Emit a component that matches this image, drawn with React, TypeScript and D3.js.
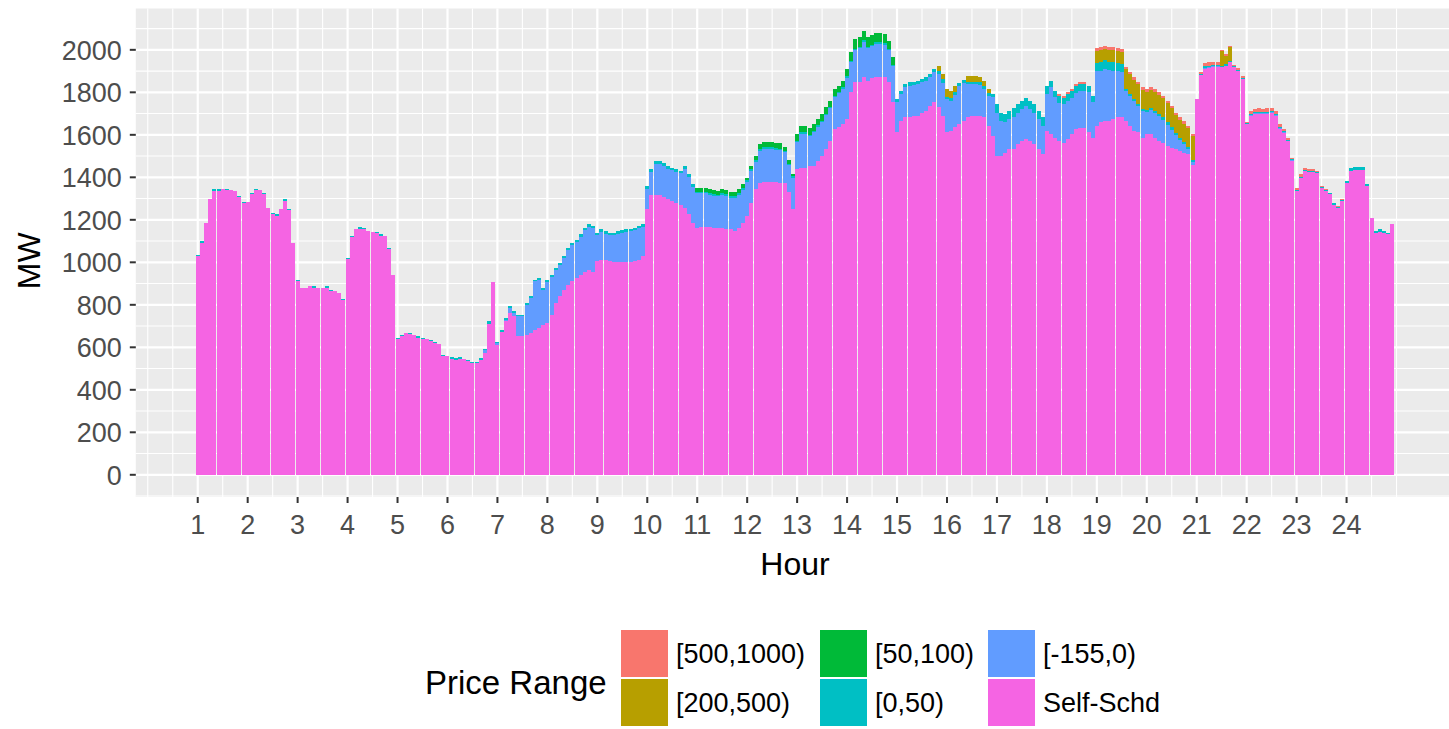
import React, { useEffect, useRef } from 'react';
import * as d3 from 'd3';

// 5-minute intervals, 12 per hour, hour 1 .. 24
const hourTicks = d3.range(1, 25);
const yTicks = d3.range(0, 2001, 200);

// legend order (ggplot puts first level on top of the stack)
const priceRanges = ['[500,1000)', '[200,500)', '[50,100)', '[0,50)', '[-155,0)', 'Self-Schd'];
const rangeColors = ['#F8766D', '#B79F00', '#00BA38', '#00BFC4', '#619CFF', '#F564E3'];

// MW per interval, one row per hour
const selfSchd = [
  1030, 1093, 1186, 1296, 1337, 1337, 1343, 1340, 1340, 1335, 1306, 1277,
  1283, 1322, 1340, 1340, 1322, 1257, 1227, 1220, 1250, 1290, 1246, 1090,
  912, 879, 879, 887, 881, 879, 879, 881, 865, 864, 856, 821,
  1015, 1117, 1158, 1159, 1156, 1147, 1142, 1136, 1125, 1126, 1062, 942,
  637, 653, 666, 663, 659, 646, 638, 639, 628, 619, 614, 559,
  557, 547, 542, 547, 544, 534, 527, 527, 542, 575, 710, 906,
  612, 670, 725, 760, 745, 651, 651, 659, 665, 682, 690, 706,
  714, 753, 808, 840, 871, 895, 911, 926, 942, 953, 966, 955,
  1005, 1010, 1013, 1005, 1000, 1000, 1000, 1000, 1000, 1005, 1013, 1029,
  1250, 1316, 1316, 1316, 1306, 1296, 1288, 1280, 1272, 1257, 1226, 1186,
  1162, 1167, 1167, 1167, 1162, 1162, 1162, 1158, 1155, 1147, 1162, 1186,
  1217, 1280, 1343, 1375, 1378, 1378, 1378, 1378, 1375, 1375, 1330, 1249,
  1438, 1446, 1446, 1453, 1453, 1478, 1501, 1532, 1571, 1627, 1635, 1650,
  1674, 1800, 1847, 1847, 1870, 1854, 1866, 1870, 1870, 1870, 1847, 1753,
  1611, 1666, 1682, 1682, 1690, 1690, 1705, 1713, 1734, 1753, 1729, 1690,
  1611, 1619, 1635, 1650, 1666, 1682, 1690, 1690, 1690, 1682, 1643, 1595,
  1501, 1501, 1516, 1532, 1532, 1556, 1571, 1579, 1571, 1556, 1532, 1508,
  1619, 1603, 1587, 1571, 1563, 1579, 1603, 1627, 1634, 1634, 1611, 1587,
  1642, 1658, 1666, 1666, 1674, 1682, 1682, 1666, 1642, 1619, 1611, 1587,
  1603, 1603, 1587, 1571, 1563, 1548, 1540, 1532, 1524, 1516, 1508, 1460,
  1770, 1880, 1910, 1913, 1918, 1918, 1918, 1926, 1941, 1918, 1902, 1863,
  1650, 1690, 1698, 1700, 1698, 1700, 1702, 1690, 1627, 1610, 1571, 1477,
  1336, 1398, 1430, 1425, 1425, 1418, 1350, 1335, 1320, 1272, 1256, 1290,
  1375, 1430, 1436, 1436, 1436, 1360, 1210, 1139, 1142, 1139, 1133, 1178,
];

const neg155to0 = [
  0, 0, 0, 0, 0, 0, 0, 0, 0, 0, 0, 0,
  0, 0, 0, 0, 0, 0, 0, 0, 0, 0, 0, 0,
  0, 0, 0, 0, 0, 0, 0, 0, 0, 0, 0, 0,
  0, 0, 0, 0, 0, 0, 0, 0, 0, 0, 0, 0,
  0, 0, 0, 0, 0, 0, 0, 0, 0, 0, 0, 0,
  0, 0, 0, 0, 0, 0, 0, 0, 0, 10, 0, 0,
  7, 4, 5, 25, 16, 94, 94, 141, 167, 228, 228, 165,
  194, 178, 155, 147, 148, 163, 171, 171, 179, 199, 202, 205,
  122, 133, 122, 122, 127, 135, 138, 143, 146, 146, 148, 137,
  97, 110, 149, 149, 148, 145, 145, 146, 146, 184, 176, 169,
  163, 158, 158, 152, 152, 149, 157, 156, 150, 158, 157, 155,
  163, 150, 129, 148, 156, 156, 156, 152, 152, 142, 127, 147,
  129, 160, 160, 141, 161, 160, 160, 161, 153, 152, 160, 168,
  195, 143, 153, 161, 169, 154, 153, 159, 159, 154, 150, 171,
  142, 126, 142, 150, 145, 149, 142, 142, 137, 142, 156, 156,
  157, 141, 154, 181, 179, 156, 148, 148, 145, 135, 140, 183,
  204, 164, 142, 141, 153, 149, 149, 156, 149, 149, 141, 134,
  171, 222, 190, 181, 181, 181, 172, 172, 173, 173, 190, 167,
  257, 244, 244, 239, 228, 217, 212, 140, 140, 139, 124, 124,
  105, 113, 116, 117, 109, 100, 85, 66, 51, 40, 27, 13,
  0, 0, 4, 4, 4, 4, 0, 0, 0, 0, 0, 0,
  0, 4, 4, 4, 4, 4, 4, 4, 4, 4, 0, 4,
  0, 0, 0, 0, 0, 0, 0, 0, 0, 0, 0, 0,
  0, 0, 0, 0, 0, 0, 0, 0, 0, 0, 0, 0,
];

const p0to50 = [
  6, 6, 0, 0, 6, 6, 0, 6, 0, 0, 6, 6,
  0, 6, 6, 0, 6, 0, 6, 6, 0, 6, 6, 0,
  6, 0, 0, 0, 6, 0, 0, 6, 6, 0, 0, 6,
  6, 6, 0, 6, 6, 0, 0, 6, 6, 0, 6, 0,
  6, 6, 0, 6, 0, 6, 6, 0, 6, 6, 0, 6,
  0, 6, 6, 6, 0, 6, 6, 6, 6, 5, 12, 0,
  8, 8, 8, 8, 8, 8, 8, 8, 8, 8, 8, 8,
  10, 10, 10, 10, 10, 10, 10, 10, 10, 10, 10, 10,
  12, 12, 12, 12, 12, 12, 12, 12, 12, 12, 12, 12,
  12, 12, 12, 12, 12, 12, 12, 12, 12, 12, 12, 12,
  8, 8, 8, 8, 8, 8, 8, 8, 8, 8, 8, 8,
  8, 8, 8, 8, 8, 8, 8, 8, 8, 8, 8, 8,
  6, 6, 6, 6, 6, 6, 6, 6, 6, 6, 6, 6,
  6, 6, 6, 6, 6, 6, 6, 6, 6, 6, 6, 6,
  15, 15, 15, 15, 15, 15, 15, 15, 15, 15, 15, 15,
  12, 12, 12, 12, 12, 12, 12, 12, 12, 12, 12, 12,
  40, 40, 40, 40, 40, 40, 40, 40, 40, 40, 40, 40,
  40, 30, 30, 30, 30, 30, 30, 30, 30, 30, 30, 30,
  40, 40, 40, 40, 40, 40, 40, 12, 12, 12, 12, 12,
  10, 10, 10, 10, 10, 10, 10, 10, 10, 10, 10, 10,
  0, 5, 8, 8, 8, 8, 5, 5, 5, 5, 5, 5,
  5, 5, 5, 5, 5, 5, 5, 5, 5, 5, 5, 5,
  5, 5, 5, 5, 5, 5, 5, 5, 5, 5, 5, 5,
  7, 16, 14, 14, 14, 7, 0, 8, 13, 8, 6, 0,
];

const p50to100 = [
  0, 0, 0, 0, 0, 0, 0, 0, 0, 0, 0, 0,
  0, 0, 0, 0, 0, 0, 0, 0, 0, 0, 0, 0,
  0, 0, 0, 0, 0, 0, 0, 0, 0, 0, 0, 0,
  0, 0, 0, 0, 0, 0, 0, 0, 0, 0, 0, 0,
  0, 0, 0, 0, 0, 0, 0, 0, 0, 0, 0, 0,
  0, 0, 0, 0, 0, 0, 0, 0, 0, 0, 0, 0,
  0, 0, 0, 0, 0, 0, 0, 0, 0, 0, 0, 0,
  0, 0, 0, 0, 0, 0, 0, 0, 0, 0, 0, 0,
  0, 0, 0, 0, 0, 0, 0, 0, 0, 0, 0, 0,
  0, 0, 0, 0, 0, 0, 0, 0, 0, 0, 0, 0,
  18, 18, 18, 18, 18, 18, 18, 18, 18, 18, 18, 18,
  10, 15, 20, 25, 25, 25, 25, 25, 25, 20, 15, 10,
  30, 30, 30, 30, 30, 30, 30, 30, 30, 30, 30, 30,
  35, 40, 45, 45, 45, 45, 45, 45, 45, 45, 40, 35,
  0, 0, 0, 0, 0, 0, 0, 0, 0, 0, 0, 0,
  0, 0, 0, 0, 0, 0, 0, 0, 0, 0, 0, 0,
  0, 0, 0, 0, 0, 0, 0, 0, 0, 0, 0, 0,
  0, 0, 0, 0, 0, 0, 0, 0, 0, 0, 0, 0,
  0, 0, 0, 0, 0, 0, 0, 0, 0, 0, 0, 0,
  0, 0, 0, 0, 0, 0, 0, 0, 0, 0, 0, 0,
  0, 0, 0, 0, 0, 0, 0, 0, 0, 0, 0, 0,
  0, 0, 0, 0, 0, 0, 0, 0, 0, 0, 0, 0,
  0, 0, 0, 0, 0, 0, 0, 0, 0, 0, 0, 0,
  0, 0, 0, 0, 0, 0, 0, 0, 0, 0, 0, 0,
];

const p200to500 = [
  0, 0, 0, 0, 0, 0, 0, 0, 0, 0, 0, 0,
  0, 0, 0, 0, 0, 0, 0, 0, 0, 0, 0, 0,
  0, 0, 0, 0, 0, 0, 0, 0, 0, 0, 0, 0,
  0, 0, 0, 0, 0, 0, 0, 0, 0, 0, 0, 0,
  0, 0, 0, 0, 0, 0, 0, 0, 0, 0, 0, 0,
  0, 0, 0, 0, 0, 0, 0, 0, 0, 0, 0, 0,
  0, 0, 0, 0, 0, 0, 0, 0, 0, 0, 0, 0,
  0, 0, 0, 0, 0, 0, 0, 0, 0, 0, 0, 0,
  0, 0, 0, 0, 0, 0, 0, 0, 0, 0, 0, 0,
  0, 0, 0, 0, 0, 0, 0, 0, 0, 0, 0, 0,
  0, 0, 0, 0, 0, 0, 0, 0, 0, 0, 0, 0,
  0, 0, 0, 0, 0, 0, 0, 0, 0, 0, 0, 0,
  0, 0, 0, 0, 0, 0, 0, 0, 0, 0, 0, 0,
  0, 0, 0, 0, 0, 0, 0, 0, 0, 0, 0, 0,
  0, 0, 0, 0, 0, 0, 0, 0, 0, 0, 25, 25,
  35, 35, 30, 0, 0, 25, 25, 25, 25, 25, 20, 0,
  0, 0, 0, 0, 0, 0, 0, 0, 0, 0, 0, 0,
  0, 0, 0, 0, 0, 0, 0, 0, 0, 0, 0, 0,
  55, 55, 55, 55, 55, 55, 55, 90, 90, 90, 90, 90,
  85, 85, 90, 90, 90, 90, 90, 85, 85, 85, 85, 110,
  0, 0, 0, 0, 0, 0, 70, 40, 65, 0, 0, 0,
  0, 0, 0, 0, 0, 0, 0, 0, 0, 0, 0, 0,
  0, 0, 0, 0, 0, 0, 0, 0, 0, 0, 0, 0,
  0, 0, 0, 0, 0, 0, 0, 0, 0, 0, 0, 0,
];

const p500to1000 = [
  0, 0, 0, 0, 0, 0, 0, 0, 0, 0, 0, 0,
  0, 0, 0, 0, 0, 0, 0, 0, 0, 0, 0, 0,
  0, 0, 0, 0, 0, 0, 0, 0, 0, 0, 0, 0,
  0, 0, 0, 0, 0, 0, 0, 0, 0, 0, 0, 0,
  0, 0, 0, 0, 0, 0, 0, 0, 0, 0, 0, 0,
  0, 0, 0, 0, 0, 0, 0, 0, 0, 0, 0, 0,
  0, 0, 0, 0, 0, 0, 0, 0, 0, 0, 0, 0,
  0, 0, 0, 0, 0, 0, 0, 0, 0, 0, 0, 0,
  0, 0, 0, 0, 0, 0, 0, 0, 0, 0, 0, 0,
  0, 0, 0, 0, 0, 0, 0, 0, 0, 0, 0, 0,
  0, 0, 0, 0, 0, 0, 0, 0, 0, 0, 0, 0,
  0, 0, 0, 0, 0, 0, 0, 0, 0, 0, 0, 0,
  0, 0, 0, 0, 0, 0, 0, 0, 0, 0, 0, 0,
  0, 0, 0, 0, 0, 0, 0, 0, 0, 0, 0, 0,
  0, 0, 0, 0, 0, 0, 0, 0, 0, 0, 0, 0,
  0, 0, 0, 0, 0, 0, 0, 0, 0, 0, 0, 0,
  0, 0, 0, 0, 0, 0, 0, 0, 0, 0, 0, 0,
  0, 0, 0, 10, 10, 10, 10, 10, 10, 10, 0, 0,
  15, 15, 15, 15, 15, 15, 15, 10, 10, 10, 10, 10,
  12, 12, 12, 12, 12, 12, 12, 12, 12, 12, 12, 12,
  0, 9, 15, 20, 15, 15, 7, 9, 9, 6, 6, 10,
  3, 14, 14, 16, 14, 16, 14, 11, 14, 8, 8, 7,
  10, 11, 11, 8, 8, 7, 4, 3, 3, 3, 3, 1,
  0, 0, 0, 0, 0, 0, 0, 0, 0, 0, 0, 0,
];

const W = 1449;
const H = 729;
const panel = { left: 135.8, right: 1454.3, top: 8.5, bottom: 497 };
const font = '"Liberation Sans", Arial, Helvetica, sans-serif';

const App = () => {
  const svgRef = useRef(null);

  useEffect(() => {
    const svg = d3.select(svgRef.current);
    svg.selectAll('*').remove();

    const seriesByRange = {
      'Self-Schd': selfSchd,
      '[-155,0)': neg155to0,
      '[0,50)': p0to50,
      '[50,100)': p50to100,
      '[200,500)': p200to500,
      '[500,1000)': p500to1000,
    };
    const stackKeys = priceRanges.slice().reverse(); // bottom first
    const rows = selfSchd.map((_, i) => {
      const row = { slot: 1 + i / 12 };
      stackKeys.forEach(k => { row[k] = seriesByRange[k][i]; });
      return row;
    });
    const stacked = d3.stack().keys(stackKeys)(rows);
    const maxTotal = d3.max(stacked[stacked.length - 1], d => d[1]);

    const barWidth = 0.08;
    const xLo = 1 - barWidth / 2;
    const xHi = rows[rows.length - 1].slot + barWidth / 2;
    const xPad = (xHi - xLo) * 0.05;
    const x = d3.scaleLinear().domain([xLo - xPad, xHi + xPad]).range([panel.left, panel.right]);
    const y = d3.scaleLinear().domain([-0.05 * maxTotal, 1.05 * maxTotal]).range([panel.bottom, panel.top]);

    // panel background
    svg.append('rect')
      .attr('x', panel.left).attr('y', panel.top)
      .attr('width', panel.right - panel.left).attr('height', panel.bottom - panel.top)
      .attr('fill', '#EBEBEB');

    const grid = svg.append('g');
    const [x0, x1] = x.domain();
    const xMinor = d3.range(0, 25.01, 0.5).filter(v => !hourTicks.includes(v) && v >= x0 && v <= x1);
    const [y0, y1] = y.domain();
    const yMinor = d3.range(-100, 2200, 200).filter(v => v >= y0 && v <= y1);

    grid.selectAll('.xminor').data(xMinor).enter().append('line')
      .attr('x1', d => x(d)).attr('x2', d => x(d))
      .attr('y1', panel.top).attr('y2', panel.bottom)
      .attr('stroke', '#fff').attr('stroke-width', 1.1);
    grid.selectAll('.yminor').data(yMinor).enter().append('line')
      .attr('x1', panel.left).attr('x2', panel.right)
      .attr('y1', d => y(d)).attr('y2', d => y(d))
      .attr('stroke', '#fff').attr('stroke-width', 1.1);
    grid.selectAll('.xmajor').data(hourTicks).enter().append('line')
      .attr('x1', d => x(d)).attr('x2', d => x(d))
      .attr('y1', panel.top).attr('y2', panel.bottom)
      .attr('stroke', '#fff').attr('stroke-width', 2.2);
    grid.selectAll('.ymajor').data(yTicks).enter().append('line')
      .attr('x1', panel.left).attr('x2', panel.right)
      .attr('y1', d => y(d)).attr('y2', d => y(d))
      .attr('stroke', '#fff').attr('stroke-width', 2.2);

    // stacked bars
    const color = d3.scaleOrdinal().domain(priceRanges).range(rangeColors);
    const bw = x(barWidth) - x(0);
    svg.append('g')
      .selectAll('g')
      .data(stacked)
      .enter()
      .append('g')
      .attr('fill', s => color(s.key))
      .attr('shape-rendering', 'crispEdges')
      .selectAll('rect')
      .data(s => s.filter(d => d[1] > d[0]))
      .enter()
      .append('rect')
      .attr('x', d => x(d.data.slot - barWidth / 2))
      .attr('width', bw)
      .attr('y', d => y(d[1]))
      .attr('height', d => y(d[0]) - y(d[1]));

    // axes
    const axes = svg.append('g').attr('font-family', font);
    axes.selectAll('.yt').data(yTicks).enter().append('line')
      .attr('x1', panel.left - 6).attr('x2', panel.left)
      .attr('y1', d => y(d)).attr('y2', d => y(d))
      .attr('stroke', '#333').attr('stroke-width', 2);
    axes.selectAll('.yl').data(yTicks).enter().append('text')
      .attr('x', panel.left - 14).attr('y', d => y(d))
      .attr('dy', '0.36em').attr('text-anchor', 'end')
      .attr('font-size', 27).attr('fill', '#4D4D4D')
      .text(d => d);
    axes.selectAll('.xt').data(hourTicks).enter().append('line')
      .attr('x1', d => x(d)).attr('x2', d => x(d))
      .attr('y1', panel.bottom).attr('y2', panel.bottom + 6)
      .attr('stroke', '#333').attr('stroke-width', 2);
    axes.selectAll('.xl').data(hourTicks).enter().append('text')
      .attr('x', d => x(d)).attr('y', panel.bottom + 37)
      .attr('text-anchor', 'middle')
      .attr('font-size', 27).attr('fill', '#4D4D4D')
      .text(d => d);

    axes.append('text')
      .attr('x', (panel.left + panel.right) / 2).attr('y', 575)
      .attr('text-anchor', 'middle').attr('font-size', 32).attr('fill', '#000')
      .text('Hour');
    axes.append('text')
      .attr('transform', `translate(40, ${(panel.top + panel.bottom) / 2 + 8}) rotate(-90)`)
      .attr('text-anchor', 'middle').attr('font-size', 32).attr('fill', '#000')
      .text('MW');

    // legend: 3 columns x 2 rows, filled column-wise
    const legend = svg.append('g').attr('font-family', font);
    legend.append('text')
      .attr('x', 425).attr('y', 694)
      .attr('font-size', 33).attr('fill', '#000')
      .text('Price Range');
    const colX = [621, 820, 988];
    const keySize = 47;
    const rowY = [630, 679];
    priceRanges.forEach((r, k) => {
      const cx = colX[Math.floor(k / 2)];
      const ry = rowY[k % 2];
      legend.append('rect')
        .attr('x', cx).attr('y', ry)
        .attr('width', keySize).attr('height', keySize)
        .attr('fill', color(r));
      legend.append('text')
        .attr('x', cx + keySize + 8).attr('y', ry + keySize / 2)
        .attr('dy', '0.36em')
        .attr('font-size', 27).attr('fill', '#000')
        .text(r);
    });
  }, []);

  return (
    <svg
      ref={svgRef}
      width={W}
      height={H}
      style={{ position: 'absolute', left: 0, top: 0, background: '#fff' }}
    />
  );
};

export default App;
